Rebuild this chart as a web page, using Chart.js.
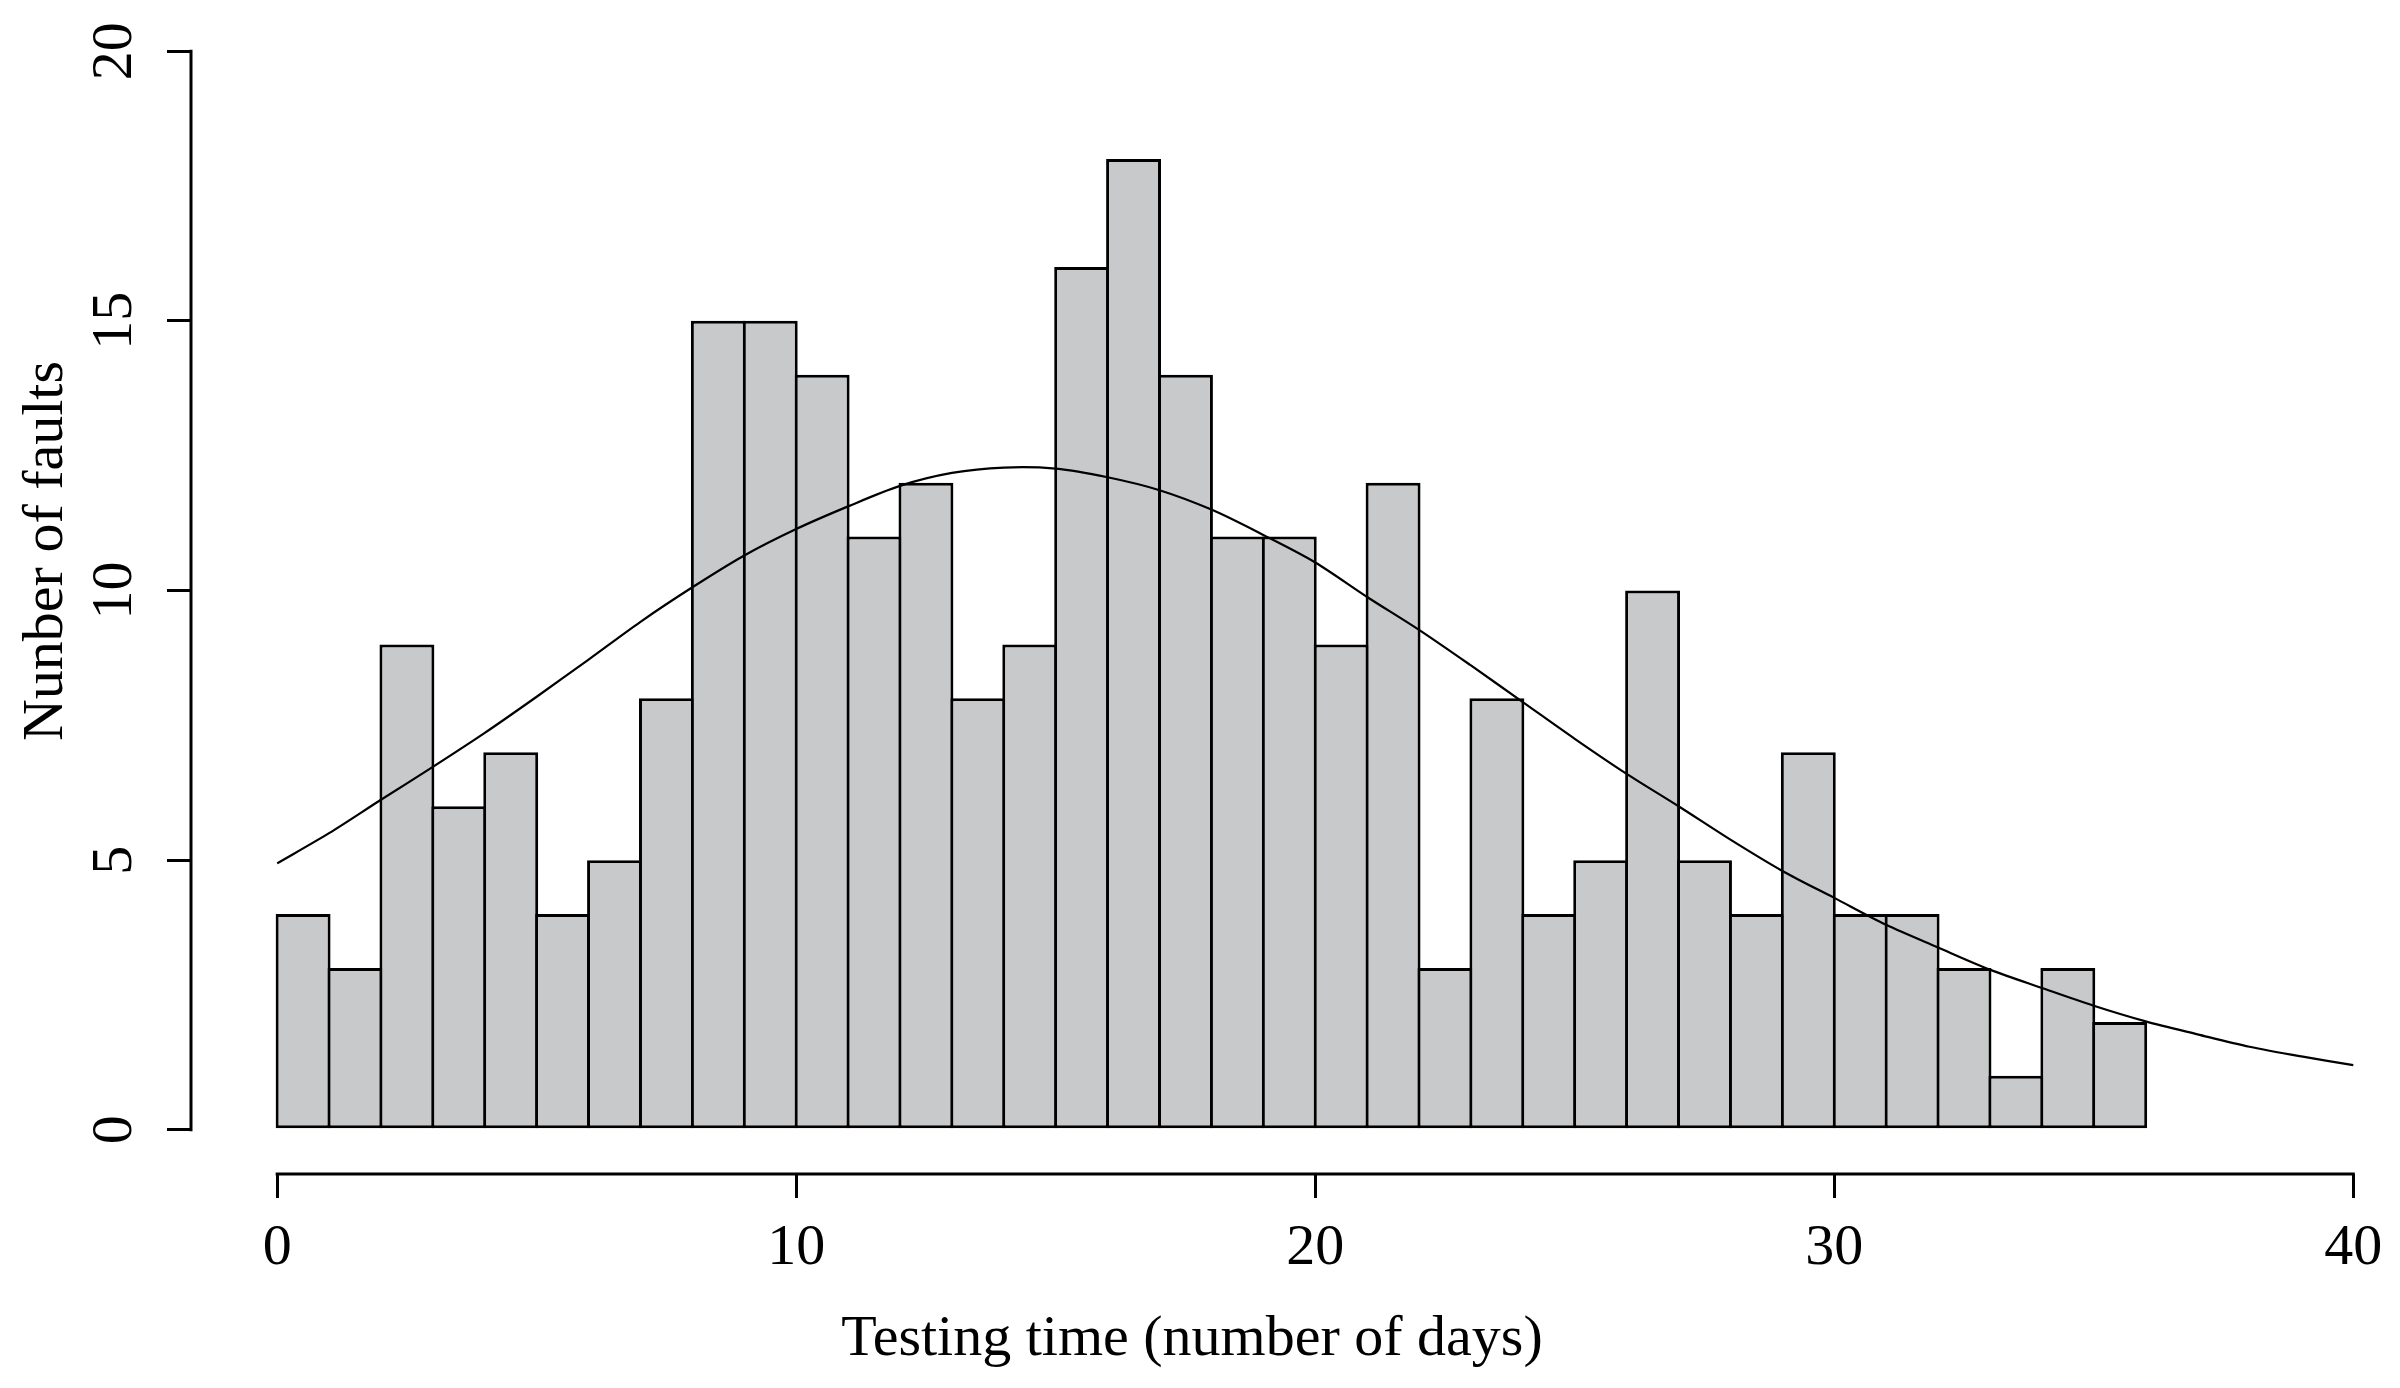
<!DOCTYPE html>
<html>
<head>
<meta charset="utf-8">
<script src="https://cdn.jsdelivr.net/npm/chart.js@4"></script>
<style>
  html, body { margin: 0; padding: 0; background: #fff; }
  canvas { display: block; }
</style>
</head>
<body>
<canvas id="hist" width="2400" height="1388"></canvas>
<script>
// faults found per testing day (bins of 1 day, starting at day 0)
const faultCounts = [4, 3, 9, 6, 7, 4, 5, 8, 15, 15, 14, 11, 12, 8, 9, 16, 18, 14,
  11, 11, 9, 12, 3, 8, 4, 5, 10, 5, 4, 7, 4, 4, 3, 1, 3, 2];
const binStart = 0;
const binWidth = 1;

// fitted curve
const curveDays = [0, 1, 2, 3, 4, 5, 6, 7, 8, 9, 10, 11, 12, 13, 14, 15, 16, 17, 18, 19, 20,
  21, 22, 23, 24, 25, 26, 27, 28, 29, 30, 31, 32, 33, 34, 35, 36, 37, 38, 39, 40];
const curveValues = [4.94, 5.5, 6.12, 6.73, 7.36, 8.03, 8.72, 9.42, 10.06, 10.65, 11.14, 11.56,
  11.94, 12.18, 12.28, 12.26, 12.1, 11.86, 11.5, 11.03, 10.52, 9.88, 9.27, 8.61, 7.93, 7.25,
  6.6, 6.0, 5.38, 4.8, 4.3, 3.8, 3.38, 2.97, 2.63, 2.3, 2.01, 1.77, 1.54, 1.36, 1.2];

const xTicks = [0, 10, 20, 30, 40];
const yTicks = [0, 5, 10, 15, 20];
const xTitle = "Testing time (number of days)";
const yTitle = "Nunber of faults";

const serif = "'Liberation Serif', 'Times New Roman', serif";
const font = { family: serif, size: 58 };

const barData = faultCounts.map((v, i) => ({ x: binStart + (i + 0.5) * binWidth, y: v }));
const curveData = curveDays.map((d, i) => ({ x: d, y: curveValues[i] }));

// R-style axes: lines only span the first..last tick, titles placed like the original
const rAxes = {
  id: "rAxes",
  afterDraw(chart) {
    const { ctx, chartArea } = chart;
    const xs = chart.scales.x, ys = chart.scales.y;
    ctx.save();
    ctx.strokeStyle = "#000";
    ctx.lineWidth = 3;
    ctx.beginPath();
    ctx.moveTo(xs.getPixelForValue(xTicks[0]) - 1.5, chartArea.bottom);
    ctx.lineTo(xs.getPixelForValue(xTicks[xTicks.length - 1]) + 1.5, chartArea.bottom);
    ctx.moveTo(chartArea.left, ys.getPixelForValue(yTicks[0]) + 1.5);
    ctx.lineTo(chartArea.left, ys.getPixelForValue(yTicks[yTicks.length - 1]) - 1.5);
    ctx.stroke();

    ctx.fillStyle = "#000";
    ctx.font = "58px " + serif;
    ctx.textAlign = "center";
    ctx.textBaseline = "alphabetic";
    ctx.fillText(xTitle, 1192, 1355);

    ctx.translate(62, 551);
    ctx.rotate(-Math.PI / 2);
    ctx.fillText(yTitle, 0, 0);
    ctx.restore();
  }
};

const ctx = document.getElementById("hist");

new Chart(ctx, {
  data: {
    datasets: [
      {
        type: "line",
        label: "Curve",
        data: curveData,
        borderColor: "#000",
        borderWidth: 2.2,
        pointRadius: 0,
        tension: 0.3,
        fill: false,
        order: 0,
      },
      {
        type: "bar",
        label: "Faults",
        data: barData,
        backgroundColor: "#c8c9cb",
        borderColor: "#000",
        borderWidth: 3,
        borderSkipped: false,
        barPercentage: 1.058,
        categoryPercentage: 1,
        order: 1,
      },
    ],
  },
  options: {
    responsive: false,
    animation: false,
    devicePixelRatio: 1,
    layout: { padding: { top: 7, left: 0, right: 0, bottom: 0 } },
    plugins: {
      legend: { display: false },
      tooltip: { enabled: false },
    },
    scales: {
      x: {
        type: "linear",
        offset: false,
        min: -1.66,
        max: 40.9,
        afterBuildTicks: (s) => { s.ticks = xTicks.map((v) => ({ value: v })); },
        afterFit: (s) => { s.height = 214; s.paddingLeft = 0; s.paddingRight = 0; },
        grid: { display: true, offset: false, drawOnChartArea: false, drawTicks: true, tickLength: 24, color: "#000", lineWidth: 3 },
        border: { display: false },
        ticks: { font, color: "#000", padding: 16, maxRotation: 0, autoSkip: false },
      },
      y: {
        min: -0.82,
        max: 20.82,
        afterBuildTicks: (s) => { s.ticks = yTicks.map((v) => ({ value: v })); },
        afterFit: (s) => { s.width = 191; s.paddingTop = 0; s.paddingBottom = 0; },
        grid: { display: true, drawOnChartArea: false, drawTicks: true, tickLength: 24, color: "#000", lineWidth: 3 },
        border: { display: false },
        ticks: { font, color: "#000", padding: 22, minRotation: 90, maxRotation: 90, crossAlign: "center" },
      },
    },
  },
  plugins: [rAxes],
});
</script>
</body>
</html>
